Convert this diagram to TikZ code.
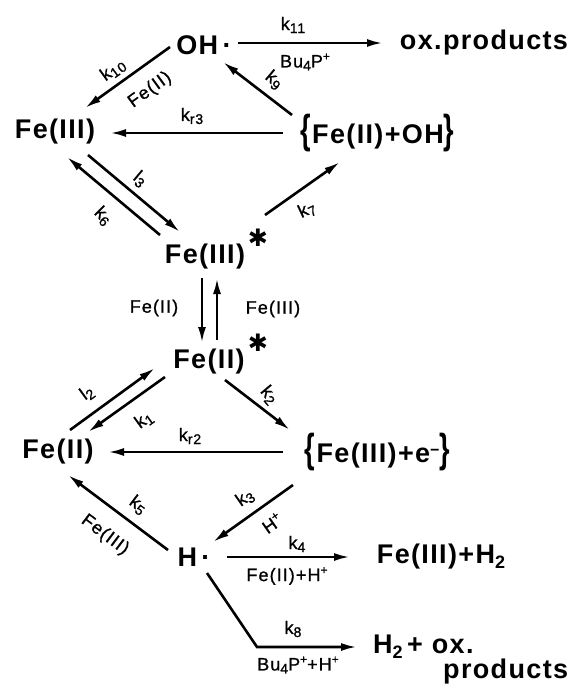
\documentclass[tikz,border=0pt]{standalone}
\usepackage{fontspec}
\setmainfont{Liberation Sans}
\newfontfamily\spfont[LetterSpace=5]{Liberation Sans Bold}
\newfontfamily\labfont[LetterSpace=6,FakeBold=1]{Liberation Sans}
\newfontfamily\symfont{DejaVu Sans}
\usetikzlibrary{arrows.meta}
\newcommand\ksub[1]{\raisebox{-3pt}{\fontsize{14}{14}\selectfont #1}}
\newcommand\ssup[1]{\raisebox{7pt}{\fontsize{12}{12}\selectfont #1}}
\newcommand\bsub[1]{\raisebox{-5pt}{\fontsize{18}{18}\selectfont #1}}
\newcommand\brl{\scalebox{1}[1.5]{\textbf{\{}}}
\newcommand\brr{\scalebox{1}[1.5]{\textbf{\}}}}
\tikzset{
  sp/.style={font=\spfont\fontsize{27}{29}\selectfont, inner sep=0pt},
  lab/.style={font=\labfont\fontsize{18}{19}\selectfont, inner sep=0pt},
  starl/.style={font=\symfont\fontsize{24}{24}\selectfont, inner sep=0pt},
  rx/.style={line width=2.6pt, -{Latex[length=16pt,width=8pt]}},
  ln/.style={line width=2.6pt}
}
\begin{document}
\begin{tikzpicture}[x=1pt,y=-1pt]
\useasboundingbox (0,0) rectangle (568,691);
% species
\node[sp] (oh) at (204,45) {OH\,·};
\node[sp] (oxp) at (484,43) {ox.products};
\node[sp] (fe3) at (55,132) {Fe(III)};
\node[sp] (ohc) at (378,133) {\brl Fe(II)+OH\brr};
\node[sp] (fe3s) at (205,257) {Fe(III)};
\node[starl] (st1) at (258,238) {✱};
\node[sp] (fe2s) at (209,362) {Fe(II)};
\node[starl] (st2) at (258,343) {✱};
\node[sp] (fe2) at (58,452) {Fe(II)};
\node[sp] (fe3e) at (378,452) {\brl Fe(III)+e\ssup{\fontsize{16}{16}\selectfont −}\brr};
\node[sp] (h) at (194,557) {H\,·};
\node[sp] (fe3h2) at (441,557) {Fe(III)+H\bsub{2}};
\node[sp, anchor=west] (h2ox) at (373,647) {H\bsub{2}\,+ ox.};
\node[sp, anchor=west] (prod) at (443,672) {products};
% connectors
\draw[rx] ([shift={(34,-2)}]oh.center) -- ([shift={(-101,0)}]oxp.center);
\draw[rx] ([shift={(-34,2)}]oh.center) -- ([shift={(30,-24)}]fe3.center);
\draw[rx] ([shift={(-86,-18)}]ohc.center) -- ([shift={(19,17)}]oh.center);
\draw[rx] ([shift={(-95,0)}]ohc.center) -- ([shift={(55,1)}]fe3.center);
\draw[rx] ([shift={(33,23)}]fe3.center) -- ([shift={(-25,-25)}]fe3s.center);
\draw[rx] ([shift={(-45,-22)}]fe3s.center) -- ([shift={(12,25)}]fe3.center);
\draw[rx] ([shift={(60,-42)}]fe3s.center) -- ([shift={(-38,29)}]ohc.center);
\draw[rx] ([shift={(-3,21)}]fe3s.center) -- ([shift={(-7,-19)}]fe2s.center);
\draw[rx] ([shift={(8,-22)}]fe2s.center) -- ([shift={(12,21)}]fe3s.center);
\draw[rx] ([shift={(12,-22)}]fe2.center) -- ([shift={(-54,6)}]fe2s.center);
\draw[rx] ([shift={(-44,15)}]fe2s.center) -- ([shift={(30,-20)}]fe2.center);
\draw[rx] ([shift={(16,18)}]fe2s.center) -- ([shift={(-88,-22)}]fe3e.center);
\draw[rx] ([shift={(-95,0)}]fe3e.center) -- ([shift={(50,0)}]fe2.center);
\draw[rx] ([shift={(-26,-7)}]h.center) -- ([shift={(10,23)}]fe2.center);
\draw[rx] ([shift={(-85,33)}]fe3e.center) -- ([shift={(19,-15)}]h.center);
\draw[rx] ([shift={(33,0)}]h.center) -- ([shift={(-91,0)}]fe3h2.center);
\coordinate (bend) at ([shift={(63,90)}]h.center);
\draw[rx] ([shift={(13,16)}]h.center) -- (bend) -- ([shift={(-16,0)}]h2ox.west);
% labels
\node[lab] (lk11) at (293,25) {k\ksub{11}};
\node[lab] (lbu1) at (305,62) {Bu\ksub{4}P\ssup{+}};
\node[lab, rotate=36] (lk10) at (113,70) {k\ksub{10}};
\node[lab, rotate=36] (lfe10) at (150,90) {Fe(II)};
\node[lab, rotate=-40] (lk9) at (274,80) {k\ksub{9}};
\node[lab] (lkr3) at (192,116) {k\ksub{r3}};
\node[lab, rotate=-40] (ll3) at (140,179) {l\ksub{3}};
\node[lab, rotate=-45] (lk6) at (103,216) {k\ksub{6}};
\node[lab, rotate=25] (lk7) at (307,210) {k\ksub{7}};
\node[lab] (lfe2v) at (154,308) {Fe(II)};
\node[lab] (lfe3v) at (273,309) {Fe(III)};
\node[lab, rotate=36] (ll2) at (87,393) {l\ksub{2}};
\node[lab, rotate=36] (lk1) at (144,420) {k\ksub{1}};
\node[lab, rotate=-50] (lk2) at (269,395) {k\ksub{2}};
\node[lab] (lkr2) at (190,436) {k\ksub{r2}};
\node[lab, rotate=-37] (lk5) at (138,505) {k\ksub{5}};
\node[lab, rotate=-37] (lfe5) at (105,535) {Fe(III)};
\node[lab, rotate=35] (lk3) at (245,498) {k\ksub{3}};
\node[lab, rotate=35] (lh3) at (272,523) {H\ssup{+}};
\node[lab] (lk4) at (297,544) {k\ksub{4}};
\node[lab] (lfe4) at (287,576) {Fe(II)+H\ssup{+}};
\node[lab] (lk8) at (293,629) {k\ksub{8}};
\node[lab] (lbu8) at (298,665) {Bu\ksub{4}P\ssup{+}+H\ssup{+}};
\end{tikzpicture}
\end{document}
